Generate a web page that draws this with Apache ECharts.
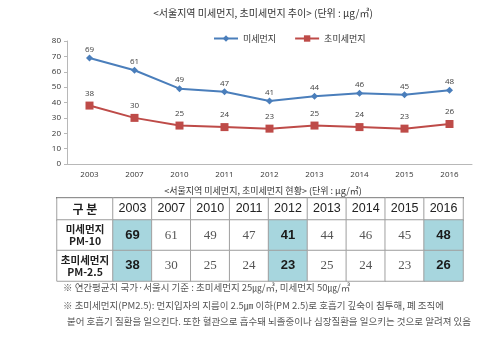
<!DOCTYPE html>
<html><head><meta charset="utf-8">
<script src="https://cdn.jsdelivr.net/npm/echarts@6/dist/echarts.min.js"></script>
<style>html,body{margin:0;padding:0;background:#fff}#c{width:500px;height:337px}</style>
</head><body><div id="c"></div>
<script>
const years = ['2003','2007','2010','2011','2012','2013','2014','2015','2016'];
const pm10 = [69, 61, 49, 47, 41, 44, 46, 45, 48];
const pm25 = [38, 30, 25, 24, 23, 25, 24, 23, 26];
const highlightYears = ['2003','2012','2016'];
const rowLabels = ['미세먼지\nPM-10', '초미세먼지\nPM-2.5'];
const cornerLabel = '구 분';
const yTicks = [0, 10, 20, 30, 40, 50, 60, 70, 80];

const KR = '"Noto Sans CJK KR", "Noto Sans", sans-serif';
const TEAL = '#a7d6de';

const dataCells = [];
[pm10, pm25].forEach((arr, r) => {
  arr.forEach((v, i) => {
    const hi = highlightYears.includes(years[i]);
    dataCells.push({
      value: [i, r, v],
      itemStyle: { color: hi ? TEAL : '#ffffff' },
      label: hi ? { fontFamily: '"Liberation Sans", Arial, sans-serif', fontWeight: 'bold', color: '#1a1a1a', fontSize: 13 }
                : { fontFamily: '"Liberation Serif", "DejaVu Serif", serif', fontWeight: 'normal', color: '#555', fontSize: 13 }
    });
  });
});
const headerCells = years.map((y, i) => ({ value: [i, 0, 0] }));
const rowCells = rowLabels.map((l, r) => ({ value: [0, r, 0] }));

const hiddenAxis = (type, data, extra) => Object.assign({
  type: type, data: data, axisLabel: { show: false }, axisTick: { show: false },
  splitLine: { show: false }, axisLine: { show: false }
}, extra || {});

const cellStyle = { borderColor: '#a0a0a0', borderWidth: 1 };
const noteFont = '9.5px "Noto Sans CJK KR"';

const chart = echarts.init(document.getElementById('c'));
chart.setOption({
  animation: false,
  title: [
    { text: '<서울지역 미세먼지, 초미세먼지 추이> (단위 : μg/㎥)', left: 263, top: 8, padding: 0, textAlign: 'center',
      textStyle: { fontFamily: KR, fontSize: 10, fontWeight: 'normal', color: '#333' } },
    { text: '<서울지역 미세먼지, 초미세먼지 현황> (단위 : μg/㎥)', left: 263, top: 186, padding: 0, textAlign: 'center',
      textStyle: { fontFamily: KR, fontSize: 9, fontWeight: 'normal', color: '#333' } }
  ],
  legend: {
    data: ['미세먼지', '초미세먼지'], top: 29, left: 208, itemGap: 18, itemWidth: 24, itemHeight: 8,
    textStyle: { fontFamily: KR, fontSize: 9, color: '#333' }
  },
  grid: [
    { left: 67, top: 41, width: 405, height: 123 },
    { left: 57, top: 198, width: 56, height: 22 },
    { left: 113, top: 198, width: 350, height: 22 },
    { left: 57, top: 220, width: 56, height: 61 },
    { left: 113, top: 220, width: 350, height: 61 }
  ],
  xAxis: [
    { gridIndex: 0, type: 'category', data: years, boundaryGap: true,
      axisLine: { lineStyle: { color: '#b8b8b8' } }, axisTick: { lineStyle: { color: '#b8b8b8' }, length: 4 },
      axisLabel: { fontFamily: '"Open Sans", sans-serif', fontSize: 8, color: '#333', margin: 7 } },
    hiddenAxis('category', [cornerLabel], { gridIndex: 1, position: 'top', axisLine: { show: true, lineStyle: { color: '#333', width: 2 } } }),
    hiddenAxis('category', years, { gridIndex: 2, position: 'top', axisLine: { show: true, lineStyle: { color: '#333', width: 2 } } }),
    hiddenAxis('category', [cornerLabel], { gridIndex: 3, position: 'top', axisLine: { show: true, lineStyle: { color: '#555', width: 1.5 } } }),
    hiddenAxis('category', years, { gridIndex: 4, position: 'top', axisLine: { show: true, lineStyle: { color: '#555', width: 1.5 } } })
  ],
  yAxis: [
    { gridIndex: 0, type: 'value', min: 0, max: 80, interval: 10,
      axisLine: { show: true, lineStyle: { color: '#b8b8b8' } }, axisTick: { show: true, length: 3, lineStyle: { color: '#b8b8b8' } },
      splitLine: { show: false },
      axisLabel: { fontFamily: '"Open Sans", sans-serif', fontSize: 8, color: '#333', margin: 6,
        formatter: v => yTicks.includes(v) ? String(v) : '' } },
    hiddenAxis('category', ['h'], { gridIndex: 1 }),
    hiddenAxis('category', ['h'], { gridIndex: 2 }),
    hiddenAxis('category', rowLabels, { gridIndex: 3, inverse: true }),
    hiddenAxis('category', rowLabels, { gridIndex: 4, inverse: true })
  ],
  series: [
    { name: '미세먼지', type: 'line', xAxisIndex: 0, yAxisIndex: 0, data: pm10,
      color: '#4a7ebb', symbol: 'diamond', symbolSize: 7,
      lineStyle: { width: 2, color: '#4a7ebb' }, itemStyle: { color: '#4a7ebb' },
      label: { show: true, position: 'top', distance: 1, fontFamily: '"Open Sans", sans-serif', fontSize: 8, color: '#404040' } },
    { name: '초미세먼지', type: 'line', xAxisIndex: 0, yAxisIndex: 0, data: pm25,
      color: '#be4b48', symbol: 'rect', symbolSize: 8,
      lineStyle: { width: 2, color: '#be4b48' }, itemStyle: { color: '#be4b48' },
      label: { show: true, position: 'top', distance: 4, fontFamily: '"Open Sans", sans-serif', fontSize: 8, color: '#404040' } },
    { type: 'heatmap', xAxisIndex: 1, yAxisIndex: 1, data: [{ value: [0, 0, 0] }],
      itemStyle: Object.assign({ color: '#fff' }, cellStyle), emphasis: { disabled: true },
      label: { show: true, formatter: () => cornerLabel, fontFamily: KR, fontWeight: 'bold', fontSize: 12, color: '#222' } },
    { type: 'heatmap', xAxisIndex: 2, yAxisIndex: 2, data: headerCells,
      itemStyle: Object.assign({ color: '#fff' }, cellStyle), emphasis: { disabled: true },
      label: { show: true, formatter: p => years[p.data.value[0]], fontFamily: '"Liberation Sans", Arial, sans-serif', fontSize: 12.5, color: '#222' } },
    { type: 'heatmap', xAxisIndex: 3, yAxisIndex: 3, data: rowCells,
      itemStyle: Object.assign({ color: '#fff' }, cellStyle), emphasis: { disabled: true },
      label: { show: true, formatter: p => rowLabels[p.data.value[1]], fontFamily: KR, fontWeight: 'bold', fontSize: 10.5, lineHeight: 12, color: '#222' } },
    { type: 'heatmap', xAxisIndex: 4, yAxisIndex: 4, data: dataCells,
      itemStyle: cellStyle, emphasis: { disabled: true },
      label: { show: true, formatter: p => String(p.data.value[2]) } }
  ],
  graphic: [
    { type: 'text', left: 63, top: 283, style: { text: '※ 연간평균치 국가·서울시 기준 : 초미세먼지 25㎍/㎥, 미세먼지 50㎍/㎥', font: noteFont, fill: '#555' } },
    { type: 'text', left: 63, top: 301, style: { text: '※ 초미세먼지(PM2.5): 먼지입자의 지름이 2.5㎛ 이하(PM 2.5)로 호흡기 깊숙이 침투해, 폐 조직에', font: noteFont, fill: '#555' } },
    { type: 'text', left: 67, top: 317, style: { text: '붙어 호흡기 질환을 일으킨다. 또한 혈관으로 흡수돼 뇌졸중이나 심장질환을 일으키는 것으로 알려져 있음', font: noteFont, fill: '#555' } }
  ]
});
</script>
</body></html>
